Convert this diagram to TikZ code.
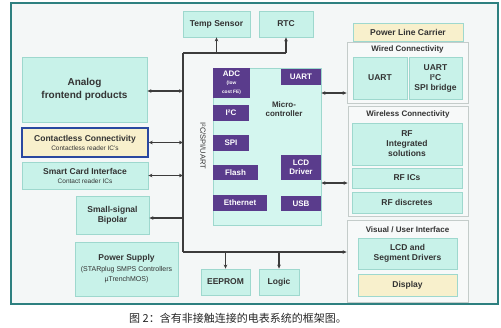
\documentclass[tikz,border=0pt]{standalone}
\usepackage{fontspec}
\setmainfont{Liberation Sans}
\newfontfamily\cjkfont{Noto Sans CJK SC}
\usetikzlibrary{arrows.meta}
\definecolor{tealb}{HTML}{9ED8CE}
\definecolor{tealf}{HTML}{C8F2E9}
\definecolor{microf}{HTML}{D4F6EF}
\definecolor{purp}{HTML}{5A3C8C}
\definecolor{yelf}{HTML}{F8F0CC}
\definecolor{blueb}{HTML}{2A48A0}
\definecolor{frame}{HTML}{2E8080}
\definecolor{bgf}{HTML}{F4F7F7}
\definecolor{grpb}{HTML}{C4CCCA}
\definecolor{grpf}{HTML}{F7F9F9}
\definecolor{txt}{HTML}{333333}
\definecolor{wire}{HTML}{3C3C3C}
\newcommand\subtxt{\mdseries\fontsize{6.5}{7.5}\selectfont}
\newcommand\pstxt{\mdseries\fontsize{7}{8.5}\selectfont}
\newcommand\tinytxt{\fontsize{4.8}{5.2}\selectfont}
\tikzset{
  wh/.style 2 args={minimum width=#1pt, minimum height=#2pt},
  box/.style={draw=tealb, fill=tealf, line width=0.8pt, align=center, inner sep=0pt, text=txt,
    font=\bfseries\fontsize{8.5}{10}\selectfont},
  pbox/.style={fill=purp, draw=none, align=center, inner sep=0pt, text=white,
    font=\bfseries\fontsize{8}{9}\selectfont},
  grp/.style={draw=grpb, fill=grpf, line width=0.8pt, inner sep=0pt},
  gtitle/.style={text=txt, font=\bfseries\fontsize{8}{9}\selectfont, inner sep=0pt},
  wire/.style={draw=wire, line width=1.2pt},
  tip/.style={-{Stealth[length=4pt,width=3.6pt]}},
  dtip/.style={{Stealth[length=4pt,width=3.6pt]}-{Stealth[length=4pt,width=3.6pt]}}
}
\begin{document}
\begin{tikzpicture}[x=1pt,y=-1pt]
\useasboundingbox (0,0) rectangle (501,327);
\fill[white] (0,0) rectangle (501,327);
\draw[frame, fill=bgf, line width=2pt] (11,3) rectangle (498,304);

% top
\node[box, wh={67}{26}] (temp) at (216.5,24) {Temp Sensor};
\node[box, wh={54}{26}] (rtc) at (286,24) {RTC};

% left
\node[box, wh={125}{65}, font=\bfseries\fontsize{10}{12.5}\selectfont] (analog) at (84.5,89.5) {Analog\\frontend products};
\node[box, draw=blueb, fill=yelf, line width=1.5pt, wh={126}{29}] (contactless) at (85,142.5)
  {Contactless Connectivity\\[-1pt]\subtxt Contactless reader IC's};
\node[box, wh={126}{27}] (smart) at (85,175.5) {Smart Card Interface\\[-1pt]\subtxt Contact reader ICs};
\node[box, wh={73}{38}] (bipolar) at (112.5,215) {Small-signal\\Bipolar};
\node[box, wh={103}{54}] (power) at (126.5,269)
  {Power Supply\\[1pt]\pstxt (STARplug SMPS Controllers\\\pstxt µTrenchMOS)};

% bottom
\node[box, wh={49}{26}] (eeprom) at (225.5,282) {EEPROM};
\node[box, wh={40}{26}] (logic) at (279,282) {Logic};

% microcontroller
\node[box, fill=microf, wh={108}{157}] (micro) at (267,146.5) {};
\node[gtitle, align=center] (microt) at (284,109) {Micro-\\controller};
\node[pbox, wh={37}{30}] (adc) at (231.5,83) {ADC\\[-1pt]\tinytxt (low\\\tinytxt cost FE)};
\node[pbox, wh={36}{16}] (i2c) at (231,113) {I²C};
\node[pbox, wh={36}{16}] (spi) at (231,143) {SPI};
\node[pbox, wh={45}{15}] (flash) at (235.5,172.5) {Flash};
\node[pbox, wh={54}{16}] (eth) at (240,203) {Ethernet};
\node[pbox, wh={40}{16}] (uart) at (301,77) {UART};
\node[pbox, wh={40}{25}] (lcd) at (301,167.5) {LCD\\Driver};
\node[pbox, wh={40}{15}] (usb) at (301,203.5) {USB};

% bus label
\node[rotate=-90, text=txt, font=\fontsize{7.5}{9}\selectfont, inner sep=0pt] (buslabel) at (203,146) {I²C/SPI/UART};

% right: power line carrier + wired
\node[box, fill=yelf, wh={110}{18}] (plc) at (408,32) {Power Line Carrier};
\node[grp, wh={121}{61}] (wired) at (407.5,72.5) {};
\node[gtitle] (wiredt) at (407.5,49.5) {Wired Connectivity};
\node[box, wh={54}{42}] (uart2) at (380,78) {UART};
\node[box, wh={53}{42}] (bridge) at (435.5,78) {UART\\I²C\\SPI bridge};

% wireless
\node[grp, wh={120}{110}] (wireless) at (408,161) {};
\node[gtitle] (wirelesst) at (408,114) {Wireless Connectivity};
\node[box, wh={110}{42}] (rfint) at (407,144) {RF\\Integrated\\solutions};
\node[box, wh={110}{20}] (rfics) at (407,178) {RF ICs};
\node[box, wh={110}{21}] (rfdisc) at (407,202.5) {RF discretes};

% visual
\node[grp, wh={121}{82}] (visual) at (407.5,261) {};
\node[gtitle] (visualt) at (407.5,230) {Visual / User Interface};
\node[box, wh={99}{31}] (lcdseg) at (407.5,253.5) {LCD and\\Segment Drivers};
\node[box, fill=yelf, wh={99}{22}] (display) at (407.5,285) {Display};

% bus
\coordinate (bt) at (183,53);
\coordinate (bb) at (183,252);
\draw[wire] (bt) -- (bb);
\draw[wire] (bt) -- (rtc.south |- bt);
\draw[wire, tip] (temp.south |- bt) -- (temp.south);
\draw[wire, tip] (rtc.south |- bt) -- (rtc.south);
\draw[wire, tip] (bb) -- (bb -| visual.west);
\draw[wire, tip] (eeprom.north |- bb) -- (eeprom.north);
\draw[wire, tip] (logic.north |- bb) -- (logic.north);

% left connectors
\coordinate (a1) at ([yshift=-1.5pt]analog.east);
\draw[wire, dtip] (a1) -- (a1 -| bt);
\draw[wire, dtip] (contactless.east) -- (contactless.east -| bt);
\draw[wire, dtip] (smart.east) -- (smart.east -| bt);
\coordinate (b1) at ([yshift=-3pt]bipolar.east);
\draw[wire, tip] (b1 -| bt) -- (b1);

% right connectors
\coordinate (w1) at ([yshift=-20.5pt]wired.west);
\draw[wire, dtip] (micro.east |- w1) -- (w1);
\coordinate (w2) at ([yshift=-22pt]wireless.west);
\draw[wire, dtip] (micro.east |- w2) -- (w2);

% caption
\node[text=black!85, font=\cjkfont\fontsize{11}{13}\selectfont, inner sep=0pt] (caption) at (238,318) {图 2：含有非接触连接的电表系统的框架图。};
\end{tikzpicture}
\end{document}
